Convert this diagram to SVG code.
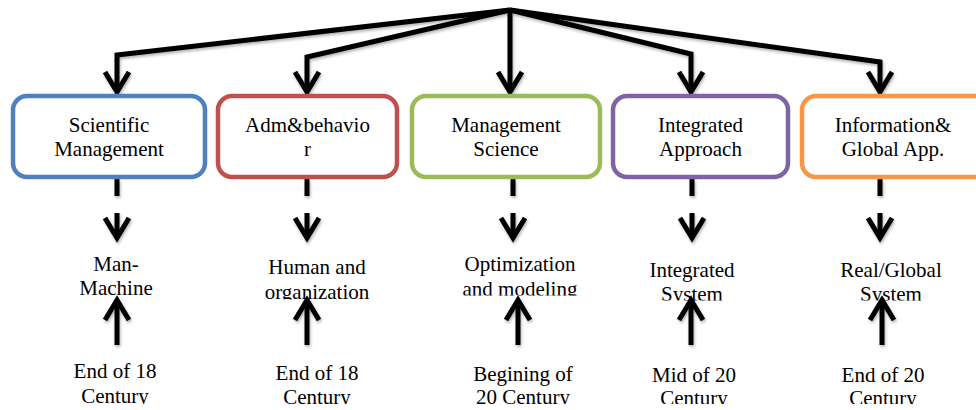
<svg xmlns="http://www.w3.org/2000/svg" width="976" height="410" viewBox="0 0 976 410">
<style>
.box{fill:#fff;stroke-width:4.5}
.t{font-family:"Liberation Serif","Times New Roman",serif;font-size:21px;fill:#000;text-anchor:middle}
.ln{fill:none;stroke:#000;stroke-width:5;stroke-linejoin:miter}
.ah{fill:none;stroke:#000;stroke-width:5;stroke-linejoin:miter;stroke-miterlimit:10}
</style>
<defs>
<filter id="sh" x="-20%" y="-20%" width="140%" height="140%">
<feDropShadow dx="1" dy="2" stdDeviation="1.5" flood-color="#000" flood-opacity="0.3"/>
</filter>
<clipPath id="c1"><rect x="0" y="240" width="976" height="60"/></clipPath>
<clipPath id="c2"><rect x="0" y="240" width="976" height="59.5"/></clipPath>
<clipPath id="c3"><rect x="0" y="240" width="976" height="55.5"/></clipPath>
<clipPath id="c4"><rect x="0" y="240" width="976" height="60.5"/></clipPath>
<clipPath id="cb"><rect x="0" y="340" width="976" height="64"/></clipPath>
</defs>

<g id="connectors" filter="url(#sh)">
<path class="ln" d="M510,10 L117,55 L117,90"/>
<path class="ah" d="M105,72 L117,92 L129,72"/>
<path class="ln" d="M510,10 L307,57 L307,90"/>
<path class="ah" d="M295,72 L307,92 L319,72"/>
<path class="ln" d="M510,10 L510,90"/>
<path class="ah" d="M498,72 L510,92 L522,72"/>
<path class="ln" d="M510,10 L691,54 L691,90"/>
<path class="ah" d="M679,72 L691,92 L703,72"/>
<path class="ln" d="M510,10 L880,62 L880,90"/>
<path class="ah" d="M868,72 L880,92 L892,72"/>

<path class="ln" d="M117,179 V196 M307,179 V196 M513,179 V196 M692,179 V196 M880,179 V196"/>

<path class="ln" d="M117,213 V235"/><path class="ah" d="M105,218 L117,238 L129,218"/>
<path class="ln" d="M307,213 V235"/><path class="ah" d="M295,218 L307,238 L319,218"/>
<path class="ln" d="M513,213 V235"/><path class="ah" d="M501,218 L513,238 L525,218"/>
<path class="ln" d="M692,213 V235"/><path class="ah" d="M680,218 L692,238 L704,218"/>
<path class="ln" d="M880,213 V235"/><path class="ah" d="M868,218 L880,238 L892,218"/>
</g>

<g id="n1"><rect class="box" x="13" y="96" width="192" height="81" rx="14" stroke="#4F81BD"/>
<text class="t" x="109" y="132">Scientific</text><text class="t" x="109" y="156">Management</text></g>
<g id="n2"><rect class="box" x="218" y="96" width="179" height="81" rx="14" stroke="#C0504D"/>
<text class="t" x="307.5" y="132">Adm&amp;behavio</text><text class="t" x="307.5" y="156">r</text></g>
<g id="n3"><rect class="box" x="412" y="96" width="188" height="81" rx="14" stroke="#9BBB59"/>
<text class="t" x="506" y="132">Management</text><text class="t" x="506" y="156">Science</text></g>
<g id="n4"><rect class="box" x="613" y="96" width="175" height="81" rx="14" stroke="#8064A2"/>
<text class="t" x="700.5" y="132">Integrated</text><text class="t" x="700.5" y="156">Approach</text></g>
<g id="n5"><rect class="box" x="802" y="96" width="190" height="81" rx="14" stroke="#F79646"/>
<text class="t" x="893" y="132">Information&amp;</text><text class="t" x="893" y="156">Global App.</text></g>

<g id="m1" clip-path="url(#c1)"><text class="t" x="116" y="271">Man-</text><text class="t" x="116" y="295">Machine</text></g>
<g id="m2" clip-path="url(#c2)"><text class="t" x="317" y="274">Human and</text><text class="t" x="317" y="299">organization</text></g>
<g id="m3" clip-path="url(#c3)"><text class="t" x="520" y="271">Optimization</text><text class="t" x="520" y="296">and modeling</text></g>
<g id="m4" clip-path="url(#c4)"><text class="t" x="692" y="277">Integrated</text><text class="t" x="692" y="301">System</text></g>
<g id="m5" clip-path="url(#c4)"><text class="t" x="891" y="277">Real/Global</text><text class="t" x="891" y="301">System</text></g>

<g id="b1" clip-path="url(#cb)"><text class="t" x="115" y="378">End of 18</text><text class="t" x="115" y="403">Century</text></g>
<g id="b2" clip-path="url(#cb)"><text class="t" x="317" y="380">End of 18</text><text class="t" x="317" y="404">Century</text></g>
<g id="b3" clip-path="url(#cb)"><text class="t" x="523" y="381">Begining of</text><text class="t" x="523" y="404">20 Century</text></g>
<g id="b4" clip-path="url(#cb)"><text class="t" x="694" y="382">Mid of 20</text><text class="t" x="694" y="405">Century</text></g>
<g id="b5" clip-path="url(#cb)"><text class="t" x="883" y="382">End of 20</text><text class="t" x="883" y="405">Century</text></g>

<g id="up-arrows" filter="url(#sh)">
<path class="ln" d="M117,303 V345"/><path class="ah" d="M105,320 L117,300 L129,320"/>
<path class="ln" d="M307,303 V345"/><path class="ah" d="M295,320 L307,300 L319,320"/>
<path class="ln" d="M518,303 V345"/><path class="ah" d="M506,320 L518,300 L530,320"/>
<path class="ln" d="M691,303 V345"/><path class="ah" d="M679,320 L691,300 L703,320"/>
<path class="ln" d="M882,303 V345"/><path class="ah" d="M870,320 L882,300 L894,320"/>
</g>
</svg>
